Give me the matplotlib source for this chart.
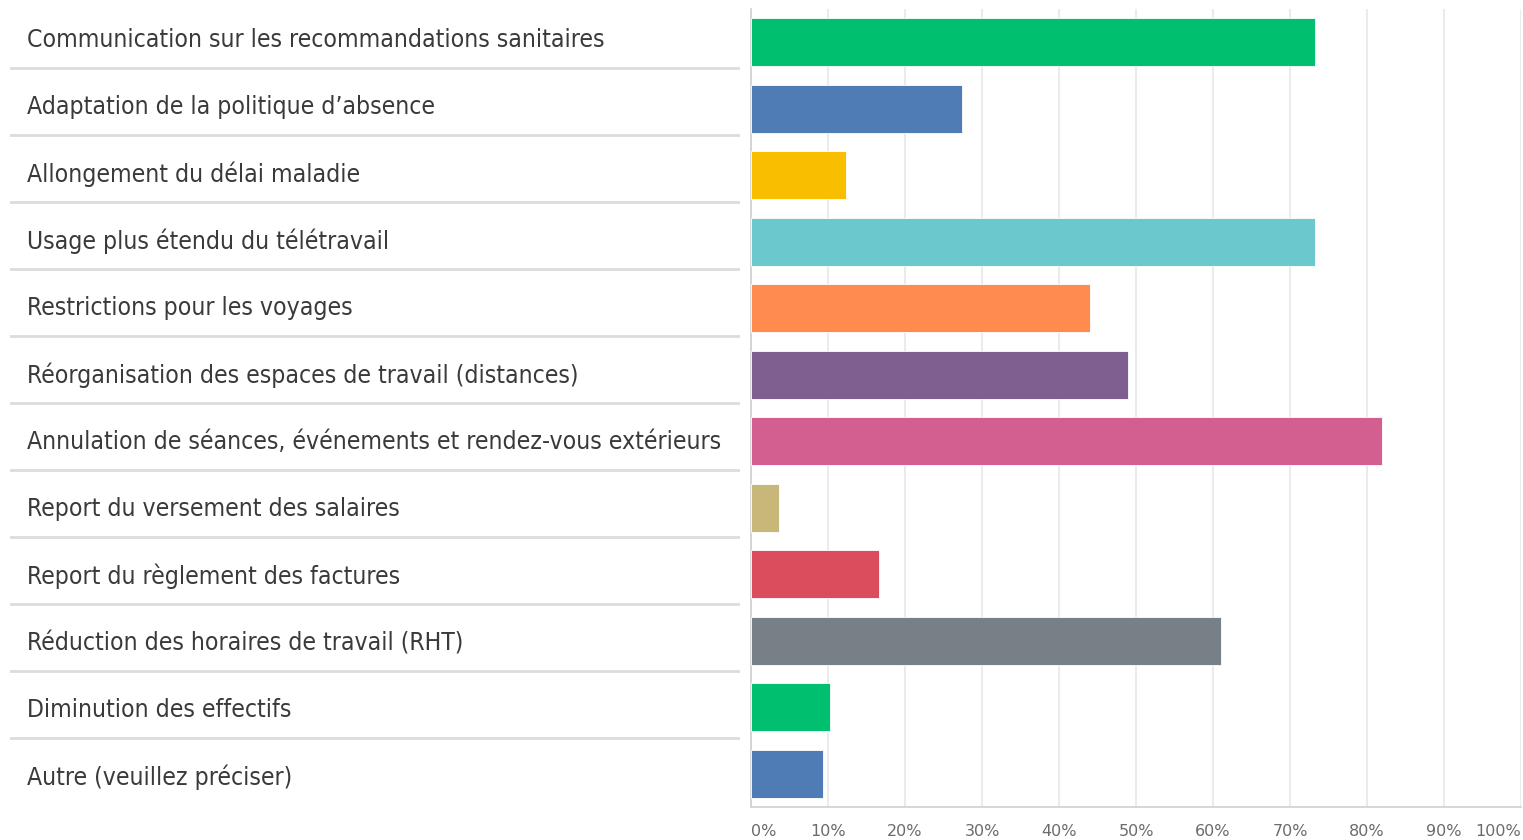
import matplotlib
matplotlib.use("Agg")
import matplotlib.pyplot as plt
from matplotlib.ticker import FixedLocator

categories = [
    "Communication sur les recommandations sanitaires",
    "Adaptation de la politique d\u2019absence",
    "Allongement du délai maladie",
    "Usage plus étendu du télétravail",
    "Restrictions pour les voyages",
    "Réorganisation des espaces de travail (distances)",
    "Annulation de séances, événements et rendez-vous extérieurs",
    "Report du versement des salaires",
    "Report du règlement des factures",
    "Réduction des horaires de travail (RHT)",
    "Diminution des effectifs",
    "Autre (veuillez préciser)",
]
values = [73.3, 27.4, 12.4, 73.3, 44.0, 49.0, 82.0, 3.6, 16.6, 61.0, 10.3, 9.4]
colors = ["#00BF6F", "#507CB6", "#F9BE00", "#6BC8CD", "#FF8B4F", "#7F5F8F",
          "#D25F90", "#C7B879", "#DB4D5C", "#768086", "#00BF6F", "#507CB6"]
tick_values = [0, 10, 20, 30, 40, 50, 60, 70, 80, 90, 100]
tick_labels = ["0%", "10%", "20%", "30%", "40%", "50%", "60%", "70%", "80%", "90%", "100%"]

W, H = 1523, 840
fig = plt.figure(figsize=(W / 100, H / 100), dpi=100)

y_top, y_bot = 9, 807
ax = fig.add_axes([751 / W, 1 - y_bot / H, (1521 - 751) / W, (y_bot - y_top) / H])
n = len(categories)
pos = list(range(n))
ax.barh(pos, values, height=0.72, color=colors, edgecolor="white", linewidth=0.6, zorder=3)
ax.set_ylim(n - 0.5, -0.5)
ax.set_xlim(0, 100)
ax.xaxis.set_major_locator(FixedLocator(tick_values))
ax.grid(axis="x", color="#ebebeb", linewidth=1.5, zorder=0)
ax.set_yticks([])
ax.tick_params(axis="x", length=0, pad=12.5, labelsize=11.5, labelcolor="#6b6b6b")
ax.set_xticklabels(tick_labels)
labs = ax.get_xticklabels()
labs[0].set_horizontalalignment("left")
labs[-1].set_horizontalalignment("right")
for sp in ["top", "right"]:
    ax.spines[sp].set_visible(False)
for sp in ["left", "bottom"]:
    ax.spines[sp].set_color("#d0d0d0")
    ax.spines[sp].set_linewidth(1.2)

l_top, l_bot = 6.5, 810.5
axl = fig.add_axes([10 / W, 1 - l_bot / H, (740 - 10) / W, (l_bot - l_top) / H])
axl.set_ylim(n - 0.5, -0.5)
axl.set_xlim(0, 1)
axl.axis("off")
for i, c in enumerate(categories):
    axl.text(17 / 730, i, c, va="center", ha="left", fontsize=17.7,
             color="#3a3a3a", family="DejaVu Sans", fontstretch="condensed")
    if i < n - 1:
        axl.axhline(i + 0.418, color="#dcdcdc", linewidth=2)

fig.savefig("out.png", dpi=100)
